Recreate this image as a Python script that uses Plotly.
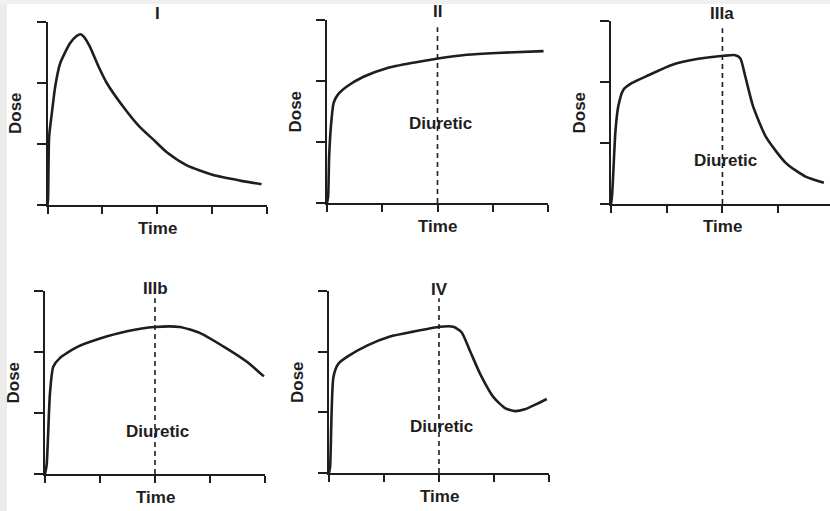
import plotly.graph_objects as go

W, H = 830, 511

# ---- data (x = time units, y = dose units) ----
panel_titles = ["I", "II", "IIIa", "IIIb", "IV"]
diuretic_time = [None, 2.0, 2.0, 2.0, 2.0]
diuretic_label_y = [None, 1.3, 0.72, 0.69, 0.77]

x_I = [0.0, 0.01, 0.03, 0.08, 0.14, 0.23, 0.41, 0.53, 0.60, 0.66, 0.77, 0.93, 1.08, 1.38, 1.68, 1.92, 2.18, 2.54, 3.02, 3.51, 3.90]
y_I = [0.0, 0.10, 1.12, 1.51, 1.94, 2.32, 2.65, 2.77, 2.80, 2.76, 2.60, 2.27, 2.00, 1.61, 1.28, 1.08, 0.86, 0.65, 0.49, 0.40, 0.34]

x_II = [0.0, 0.02, 0.04, 0.08, 0.12, 0.20, 0.36, 0.66, 1.08, 1.56, 2.01, 2.53, 3.07, 3.92]
y_II = [0.0, 0.10, 0.80, 1.35, 1.64, 1.78, 1.91, 2.07, 2.21, 2.30, 2.37, 2.43, 2.46, 2.49]

x_IIIa = [0.0, 0.02, 0.08, 0.13, 0.22, 0.37, 0.67, 1.09, 1.57, 2.02, 2.23, 2.32, 2.41, 2.55, 2.78, 3.14, 3.49, 3.82]
y_IIIa = [0.0, 0.15, 1.20, 1.60, 1.87, 1.98, 2.11, 2.28, 2.38, 2.43, 2.44, 2.39, 2.09, 1.60, 1.10, 0.67, 0.45, 0.35]

x_IIIb = [0.0, 0.03, 0.09, 0.15, 0.27, 0.58, 1.00, 1.49, 2.00, 2.45, 2.82, 3.30, 3.67, 3.98]
y_IIIb = [0.0, 0.15, 1.32, 1.76, 1.90, 2.08, 2.22, 2.34, 2.41, 2.41, 2.31, 2.06, 1.84, 1.60]

x_IV = [0.0, 0.02, 0.08, 0.17, 0.32, 0.69, 1.11, 1.53, 2.02, 2.26, 2.41, 2.56, 2.75, 2.99, 3.20, 3.38, 3.56, 3.78, 3.96]
y_IV = [0.0, 0.10, 1.58, 1.80, 1.91, 2.10, 2.25, 2.33, 2.41, 2.41, 2.32, 2.02, 1.63, 1.25, 1.07, 1.02, 1.05, 1.14, 1.22]

xs = [x_I, x_II, x_IIIa, x_IIIb, x_IV]
ys = [y_I, y_II, y_IIIa, y_IIIb, y_IV]

x_ticks = [0, 1, 2, 3, 4]
y_ticks = [0, 1, 2, 3]
axis_label_x = "Time"
axis_label_y = "Dose"
marker_label = "Diuretic"

# ---- layout geometry (pixels) ----
# (left, right, top, bottom, x_max)
boxes = [
    (47.5, 267, 22, 205, 4.0),
    (327, 548, 20, 203, 4.0),
    (611, 830, 21, 204, 3.93),
    (45, 265, 291, 474, 4.0),
    (329, 549, 291, 473, 4.0),
]
title_offset = [8, 8, 8, 3, 2]

INK = "#1e1e1e"
FONT = "Liberation Sans, Arial, Helvetica, sans-serif"
FS = 17

fig = go.Figure()
layout = dict(
    width=W, height=H,
    margin=dict(l=0, r=0, t=0, b=0),
    paper_bgcolor="white", plot_bgcolor="white",
    showlegend=False,
    font=dict(family=FONT, size=FS, color=INK),
)
annotations = []
shapes = [
    dict(type="rect", xref="paper", yref="paper", x0=0, x1=7 / W, y0=0, y1=1,
         fillcolor="#ececec", line=dict(width=0), layer="below"),
    dict(type="rect", xref="paper", yref="paper", x0=0, x1=1, y0=(H - 4) / H, y1=1,
         fillcolor="#f0f0f0", line=dict(width=0), layer="below"),
]

for i in range(5):
    n = "" if i == 0 else str(i + 1)
    xa, ya = "x" + n, "y" + n
    l, r, t, b, xmax = boxes[i]
    layout["xaxis" + n] = dict(
        domain=[l / W, min(r / W, 1.0)], anchor=ya, range=[0, xmax],
        showgrid=False, zeroline=False, showline=True, linecolor=INK, linewidth=2,
        ticks="outside", ticklen=7, tickwidth=2, tickcolor=INK,
        tickvals=x_ticks, showticklabels=False, fixedrange=True,
    )
    layout["yaxis" + n] = dict(
        domain=[(H - b) / H, (H - t) / H], anchor=xa, range=[0, 3],
        showgrid=False, zeroline=False, showline=True, linecolor=INK, linewidth=2,
        ticks="outside", ticklen=9, tickwidth=2, tickcolor=INK,
        tickvals=y_ticks, showticklabels=False, fixedrange=True,
    )
    fig.add_trace(go.Scatter(
        x=xs[i], y=ys[i], xaxis=xa, yaxis=ya, mode="lines",
        line=dict(color=INK, width=2.6, shape="spline", smoothing=0.6),
        hoverinfo="skip",
    ))
    ph = b - t
    pw = r - l
    # panel title (centred on the middle time tick)
    annotations.append(dict(
        text=panel_titles[i], xref=xa, yref=ya + " domain",
        x=2.0, y=1 + title_offset[i] / ph, xanchor="center", yanchor="middle",
        showarrow=False, font=dict(size=FS, weight="bold"),
    ))
    # axis labels
    annotations.append(dict(
        text=axis_label_x, xref=xa, yref=ya + " domain",
        x=2.0, y=-23 / ph, xanchor="center", yanchor="middle",
        showarrow=False, font=dict(size=FS, weight="bold"),
    ))
    annotations.append(dict(
        text=axis_label_y, xref=xa + " domain", yref=ya + " domain",
        x=-32 / pw, y=0.5, xanchor="center", yanchor="middle", textangle=-90,
        showarrow=False, font=dict(size=FS, weight="bold"),
    ))
    if diuretic_time[i] is not None:
        shapes.append(dict(
            type="line", xref=xa, yref=ya, x0=diuretic_time[i], x1=diuretic_time[i],
            y0=0, y1=2.88, line=dict(color=INK, width=1.6, dash="5px,4px"),
        ))
        annotations.append(dict(
            text=marker_label, xref=xa, yref=ya,
            x=diuretic_time[i] + 0.05, y=diuretic_label_y[i],
            xanchor="center", yanchor="middle",
            showarrow=False, font=dict(size=FS, weight="bold"),
        ))

layout["annotations"] = annotations
layout["shapes"] = shapes
fig.update_layout(**layout)
fig.write_html(
    "out.html",
    config={"displayModeBar": False},
    post_script="document.body.style.margin='0';document.body.style.overflow='hidden';",
)
